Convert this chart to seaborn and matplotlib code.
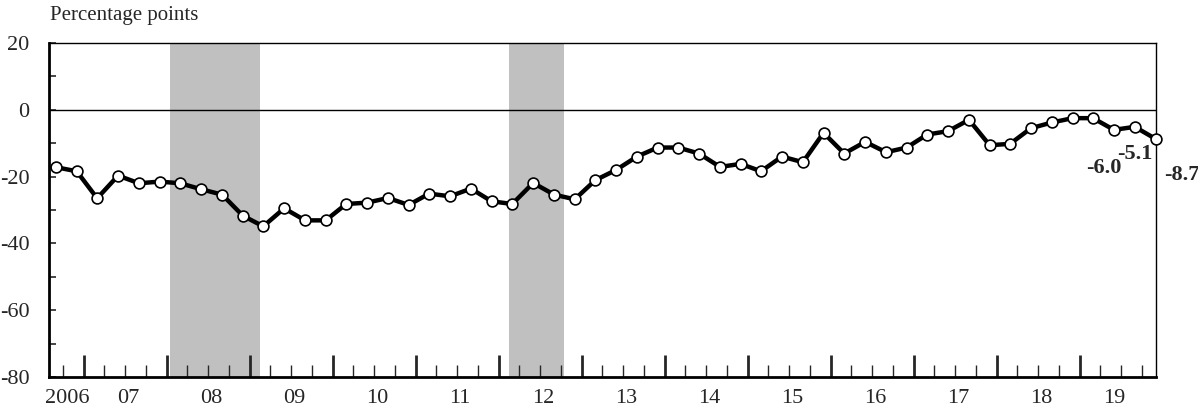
import pandas as pd
import numpy as np
import matplotlib
matplotlib.use("Agg")
import matplotlib.pyplot as plt
import matplotlib.dates as mdates
import seaborn as sns

# quarterly diffusion index, Sep 2006 - Dec 2019 (percentage points)
dates = pd.date_range("2006-09-01", periods=54, freq="3MS")
values = [-17.2, -18.4, -26.5, -19.7, -22.0, -21.5, -22.0, -23.8, -25.4, -31.7,
          -34.9, -29.5, -33.1, -33.1, -28.2, -27.8, -26.4, -28.5, -25.1, -25.9,
          -23.6, -27.4, -28.2, -21.9, -25.4, -26.8, -21.1, -18.0, -14.0, -11.3,
          -11.3, -13.1, -17.1, -16.2, -18.4, -14.0, -15.7, -6.9, -13.1, -9.6,
          -12.7, -11.3, -7.4, -6.4, -3.0, -10.6, -10.2, -5.5, -3.8, -2.5,
          -2.5, -6.0, -5.1, -8.7]
year_labels = ["2006", "07", "08", "09", "10", "11", "12", "13", "14", "15",
               "16", "17", "18", "19"]
recessions = [("2008-01-16", "2009-02-14"), ("2012-02-15", "2012-10-16")]

df = pd.DataFrame({"date": dates, "value": values})

sns.set_style("ticks")
plt.rcParams["font.family"] = ["Liberation Serif", "DejaVu Serif"]
plt.rcParams["axes.unicode_minus"] = False

fig = plt.figure(figsize=(11.98, 4.11), dpi=100)
ax = fig.add_axes([49 / 1198, 1 - 377 / 411, (1155.5 - 49) / 1198, (377 - 43) / 411])

for start, end in recessions:
    ax.axvspan(pd.Timestamp(start), pd.Timestamp(end), color="#c0c0c0", lw=0, zorder=0)

ax.axhline(0, color="black", lw=1.0, zorder=1)

sns.lineplot(data=df, x="date", y="value", ax=ax, color="black", lw=3.2,
             marker="o", markersize=7.8, markerfacecolor="white",
             markeredgecolor="black", markeredgewidth=1.2, clip_on=False, zorder=3)

# labels on the last three points
offsets = [(-10, -38), (0, -27), (26, -36)]
for (d, v), (dx, dy) in zip(zip(dates[-3:], values[-3:]), offsets):
    ax.annotate(f"{v:.1f}", (d, v), xytext=(dx, dy), textcoords="offset pixels",
                ha="center", va="center", fontsize=16, fontweight="bold")

ax.set_xlim(pd.Timestamp("2006-08-01"), pd.Timestamp("2019-12-01"))
ax.set_ylim(-80, 20)
ax.set_yticks(np.arange(-80, 21, 20))
ax.set_yticks(np.arange(-70, 20, 20), minor=True)
ax.tick_params(axis="y", which="both", direction="in", length=5, width=1.2,
               labelsize=16, pad=14)

# year boundaries (major) and quarters (minor), labels centred on the years
ax.xaxis.set_major_locator(mdates.YearLocator())
ax.xaxis.set_minor_locator(mdates.MonthLocator(bymonth=[4, 7, 10]))
ax.xaxis.set_major_formatter(plt.NullFormatter())
ax.tick_params(axis="x", which="major", direction="in", length=16, width=2)
ax.tick_params(axis="x", which="minor", direction="in", length=9, width=1)
label_pos = [pd.Timestamp("2006-10-20")] + \
            [pd.Timestamp(f"{2000 + int(l)}-07-15") for l in year_labels[1:-1]] + \
            [pd.Timestamp("2019-06-01")]
for pos, lab in zip(label_pos, year_labels):
    ax.text(pos, -83.5, lab, ha="center", va="top", fontsize=16)

ax.set_xlabel("")
ax.set_ylabel("")
for side in ["top", "right"]:
    ax.spines[side].set_linewidth(1.0)
for side in ["left", "bottom"]:
    ax.spines[side].set_linewidth(2.0)
for s in ax.spines.values():
    s.set_color("black")

fig.text(50 / 1198, 1 - 6 / 411, "Percentage points", ha="left", va="top", fontsize=15)

fig.savefig("out.png", dpi=100)
